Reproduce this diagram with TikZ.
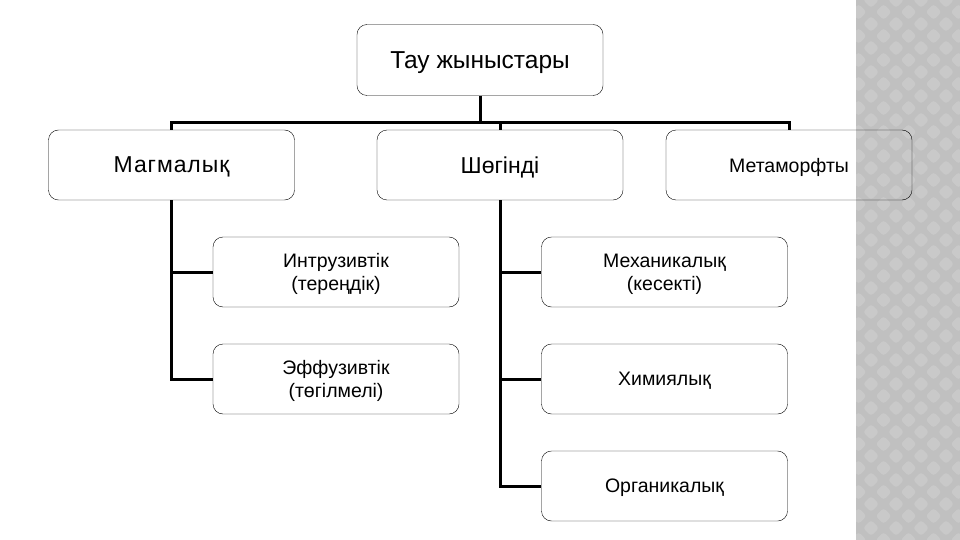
\documentclass[tikz,border=0pt]{standalone}
\usepackage{fontspec}
\setmainfont{Liberation Sans}

\definecolor{stripegray}{HTML}{C0C0C0}
\definecolor{stripelight}{HTML}{C9C9C9}

\begin{document}
\begin{tikzpicture}[x=1pt, y=-1pt,
	box/.style={draw, thin, rounded corners=10pt, minimum width=246pt, minimum height=70pt, align=center, inner sep=0pt, text depth=0pt},
	bigtext/.style={font=\fontsize{23}{26}\selectfont},
	smalltext/.style={font=\fontsize{19.5}{23}\selectfont},
	link/.style={line width=3pt}]
	\useasboundingbox (0,0) rectangle (960,540);
	
	% stripe on the right
	\fill[stripegray] (856,0) rectangle (960,540);
	\begin{scope}
	\clip (856,0) rectangle (960,540);
	\foreach \i in {0,...,5} {
		\foreach \j in {0,...,46} {
			\pgfmathsetmacro{\cx}{846+25*\i+12.5*mod(\j,2)}
			\pgfmathsetmacro{\cy}{12*\j}
			\fill[stripelight, rounded corners=3pt] (\cx-8,\cy) -- (\cx,\cy-8) -- (\cx+8,\cy) -- (\cx,\cy+8) -- cycle;
		}
	}
	\end{scope}
	
	\node (root) at (480,60) [box, font=\fontsize{24.5}{28}\selectfont, minimum height=71pt] {Тау жыныстары};
	
	\node (magma) at (171.5,165) [box, bigtext] {\addfontfeature{LetterSpace=4}Магмалық};
	\node (sed) at (500,165) [box, bigtext] {Шөгінді};
	\node (meta) at (789,165) [box, smalltext] {Метаморфты};
	
	\node (intr) at (336,272) [box, smalltext] {Интрузивтік\\(тереңдік)};
	\node (eff) at (336,379) [box, smalltext] {Эффузивтік\\(төгілмелі)};
	
	\node (mech) at (664.5,272) [box, smalltext] {Механикалық\\(кесекті)};
	\node (chem) at (664.5,379) [box, smalltext] {Химиялық};
	\node (org) at (664.5,486) [box, smalltext] {Органикалық};
	
	\coordinate (bus) at (480,123);
	\draw[link] (root) -- (bus);
	\draw[link] (magma.north) -- (magma.north |- bus) -- (meta.north |- bus) -- (meta.north);
	\draw[link] (sed.north) -- (sed.north |- bus);
	
	\draw[link] (magma.south) |- (intr.west);
	\draw[link] (magma.south) |- (eff.west);
	
	\draw[link] (sed.south) |- (mech.west);
	\draw[link] (sed.south) |- (chem.west);
	\draw[link] (sed.south) |- (org.west);
\end{tikzpicture}
\end{document}
